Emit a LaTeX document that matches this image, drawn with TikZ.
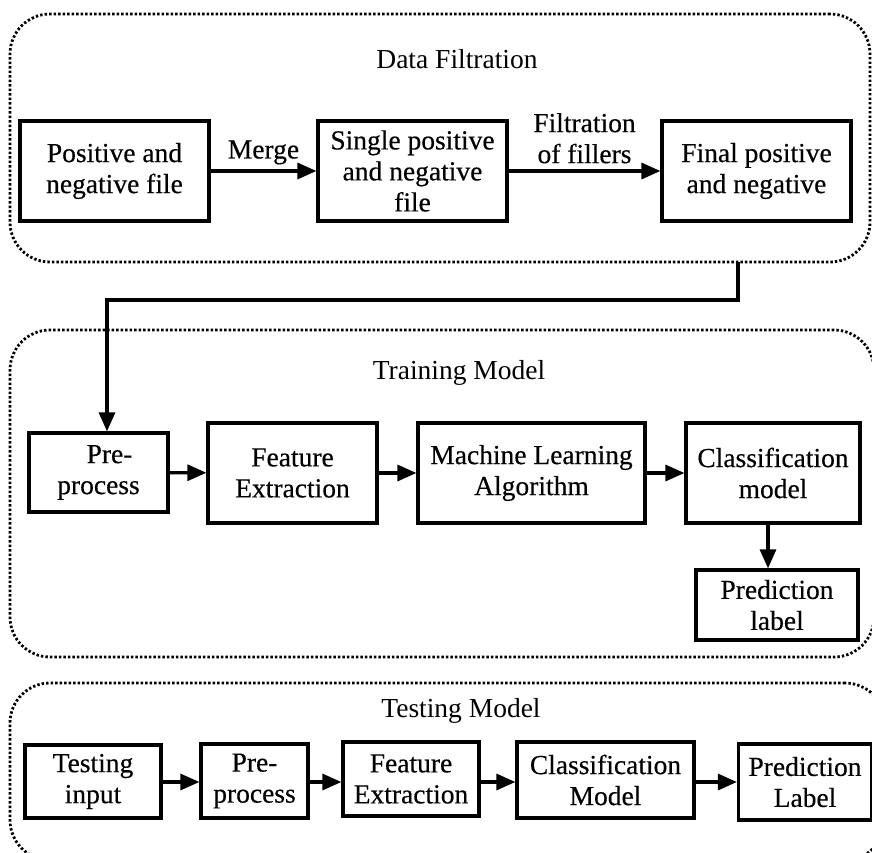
\documentclass[tikz,border=0pt]{standalone}
\usepackage{fontspec}
\setmainfont{Liberation Serif}[FakeBold=0.35]
\newfontfamily\headfont{Liberation Serif}
\usetikzlibrary{arrows.meta}
\begin{document}
\begin{tikzpicture}[x=1pt,y=-1pt,
  every node/.style={font=\fontsize{27.5}{31}\selectfont, align=center, inner sep=0pt},
  blk/.style={draw, line width=3.2pt, rectangle},
  frame/.style={draw, line width=2.8pt, dash pattern=on 2.4pt off 2.1pt, rounded corners=40pt},
  arr/.style={line width=3.2pt, -{Triangle[length=19pt,width=16pt]}},
  title/.style={font=\headfont\fontsize{27.5}{31}\selectfont}]
\useasboundingbox (0,0) rectangle (872,853);
\clip (0,0) rectangle (872,853);

% ---- Data filtration stage ----
\node[frame, minimum width=860pt, minimum height=248pt] (df) at (440,138) {};
\node[title] (dftitle) at (457,59) {Data Filtration};
\node[blk, minimum width=189pt, minimum height=100pt] (pn) at (114.5,171) {Positive and\\negative file};
\node[blk, minimum width=189pt, minimum height=100pt] (sp) at (412.5,171) {Single positive\\and negative\\file};
\node[blk, minimum width=189pt, minimum height=100pt] (fp) at (756.5,171) {Final positive\\and negative};
\draw[arr] (pn) -- node[above=5pt] (merge) {Merge} (sp);
\draw[arr] (sp) -- node[above=6pt] (filt) {Filtration\\of fillers} (fp);

% ---- Training stage ----
\node[frame, minimum width=864pt, minimum height=327pt] (tr) at (442,493.5) {};
\node[title] (trtitle) at (459,373) {Training Model};
\node[blk, minimum width=139pt, minimum height=79pt] (pre1) at (98.5,472.5) {\hspace*{22pt}Pre-\\process};
\node[blk, minimum width=169pt, minimum height=100pt] (fe1) at (292.5,473) {Feature\\Extraction};
\node[blk, minimum width=227pt, minimum height=100pt] (ml) at (531.5,473) {Machine Learning\\Algorithm};
\node[blk, minimum width=174pt, minimum height=100pt] (cm1) at (773,473) {Classification\\model};
\node[blk, minimum width=162pt, minimum height=70pt] (pl1) at (777,605) {Prediction\\label};
\draw[arr] (pre1) -- (fe1);
\draw[arr] (fe1) -- (ml);
\draw[arr] (ml) -- (cm1);
\draw[arr] ([xshift=-5pt]cm1.south) -- ([xshift=-5pt]cm1.south |- pl1.north);

% link from filtration to training
\coordinate (dfout) at (738,262);
\draw[arr] (dfout) -- (738,300) -| ([xshift=8.5pt]pre1.north);

% ---- Testing stage ----
\node[frame, minimum width=875pt, minimum height=177pt] (te) at (447.5,771.5) {};
\node[title] (tetitle) at (461,711) {Testing Model};
\node[blk, minimum width=136pt, minimum height=73pt] (ti) at (93,781.5) {Testing\\input};
\node[blk, minimum width=107pt, minimum height=74pt] (pre2) at (254.5,781) {Pre-\\process};
\node[blk, minimum width=136pt, minimum height=74pt] (fe2) at (411,779) {Feature\\Extraction};
\node[blk, minimum width=177pt, minimum height=76pt] (cm2) at (605.5,780) {Classification\\Model};
\node[blk, minimum width=133pt, minimum height=76pt] (pl2) at (805,782) {Prediction\\Label};
\draw[arr] (ti.east |- 0,782) -- (pre2.west |- 0,782);
\draw[arr] (pre2.east |- 0,782) -- (fe2.west |- 0,782);
\draw[arr] (fe2.east |- 0,782) -- (cm2.west |- 0,782);
\draw[arr] (cm2.east |- 0,782) -- (pl2.west |- 0,782);
\end{tikzpicture}
\end{document}
